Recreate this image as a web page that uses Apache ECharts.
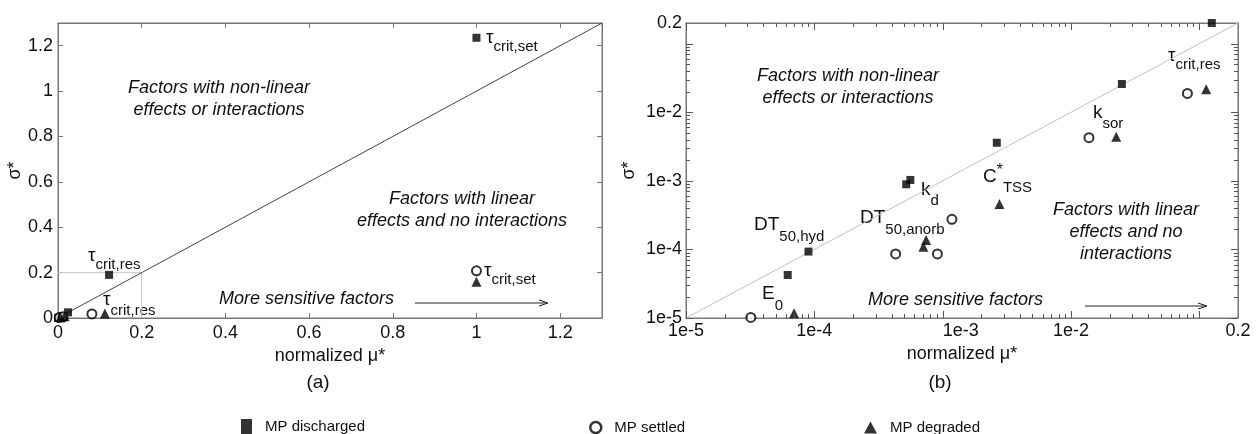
<!DOCTYPE html>
<html>
<head>
<meta charset="utf-8">
<script src="https://cdn.jsdelivr.net/npm/echarts@6/dist/echarts.min.js"></script>
<style>
  html, body { margin: 0; padding: 0; background: #fff; }
  #chart { width: 1256px; height: 434px; }
</style>
</head>
<body>
<div id="chart"></div>
<script>
// (a) linear scale – normalized mu* vs sigma*
const aDischargedX = [0, 0.004, 0.01, 0.024, 0.122, 1.0];
const aDischargedY = [0, 0.003, 0.006, 0.025, 0.19, 1.235];
const aSettledX = [0.003, 0.012, 0.081, 1.0];
const aSettledY = [0.002, 0.005, 0.018, 0.208];
const aDegradedX = [0.006, 0.016, 0.112, 1.0];
const aDegradedY = [0.003, 0.008, 0.02, 0.16];
const aTicks = [0, 0.2, 0.4, 0.6, 0.8, 1, 1.2];

// (b) log scale
const bDischargedX = [6.2e-5, 9.0e-5, 5.2e-4, 5.6e-4, 2.64e-3, 0.0249, 0.125];
const bDischargedY = [4.24e-5, 9.3e-5, 8.9e-4, 1.03e-3, 3.59e-3, 0.0258, 0.2];
const bSettledX = [3.2e-5, 4.3e-4, 9.1e-4, 1.18e-3, 0.0138, 0.0807];
const bSettledY = [1.02e-5, 8.6e-5, 8.6e-5, 2.75e-4, 4.25e-3, 0.0188];
const bDegradedX = [6.95e-5, 7.07e-4, 7.43e-4, 2.77e-3, 0.0225, 0.113];
const bDegradedY = [1.17e-5, 1.09e-4, 1.37e-4, 4.6e-4, 4.4e-3, 0.0216];
const bTicks = ['1e-5', '1e-4', '1e-3', '1e-2', '0.2'];

const seriesNames = ['MP discharged', 'MP settled', 'MP degraded'];

const FONT = 'Liberation Sans, Arial, sans-serif';
const AXIS = '#777';
const TICK = '#555';

// panel (b) plot box
const B_LEFT = 686, B_TOP = 23, B_W = 552, B_H = 295;
const LOG_MIN = 1e-5, LOG_MAX = 0.2;

const zip = (xs, ys) => xs.map((x, i) => [x, ys[i]]);

// tick positions of the log axes: decades and 2..9 x each decade
const majorTicks = [1e-5, 1e-4, 1e-3, 1e-2, 1e-1];
const minorTicks = [];
for (let n = -5; n <= -1; n++) {
  for (let k = 2; k <= 9; k++) {
    const v = k * Math.pow(10, n);
    if (v < LOG_MAX) minorTicks.push(v);
  }
}

function logLabel(axisDim) {
  return function (v) {
    const p = Math.log10(v);
    const r = Math.round(p);
    let s;
    if (Math.abs(p - r) < 1e-6) s = '1e' + r;
    else s = String(+v.toPrecision(1));
    if (bTicks.indexOf(s) < 0) return '';
    // the original figure has the 1e-3 x label sitting a bit right of its tick
    if (axisDim === 'x' && s === '1e-3') return '{sh|' + s + '}';
    return s;
  };
}

function linAxis(dim, grid, pos, showLabel) {
  return {
    type: 'value', gridIndex: grid, position: pos,
    min: 0, max: 1.3, interval: 0.2,
    axisLine: { show: true, onZero: false, lineStyle: { color: AXIS } },
    axisTick: { show: true, inside: true, length: 5, lineStyle: { color: AXIS } },
    axisLabel: {
      show: showLabel, color: '#111', fontSize: 18, fontFamily: FONT,
      margin: dim === 'x' ? 6 : 5, showMaxLabel: false,
      formatter: v => (aTicks.indexOf(+v.toFixed(2)) >= 0 ? String(+v.toFixed(2)) : '')
    },
    splitLine: { show: false }
  };
}

function logAxis(dim, grid, pos, showLabel) {
  return {
    type: 'log', logBase: 10, gridIndex: grid, position: pos,
    min: LOG_MIN, max: LOG_MAX,
    axisLine: { show: true, onZero: false, lineStyle: { color: AXIS } },
    axisTick: { show: false },
    axisLabel: {
      show: showLabel, color: '#111', fontSize: 18, fontFamily: FONT,
      margin: 4, showMaxLabel: true, showMinLabel: true, hideOverlap: false,
      formatter: logLabel(dim),
      rich: { sh: { fontSize: 18, fontFamily: FONT, color: '#111', padding: [0, 0, 0, 36] } }
    },
    splitLine: { show: false }
  };
}

function subText(x, y, main, sub, mainSize, subSize, dy, extra) {
  const pad = dy + mainSize / 2 - subSize / 2;
  return {
    type: 'text', x: x, y: y, silent: true,
    style: {
      text: '{m|' + main + '}' + (extra ? '{e|' + extra + '}' : '') + '{s|' + sub + '}',
      fill: '#111',
      rich: {
        m: { fontSize: mainSize, lineHeight: mainSize, verticalAlign: 'top', fontFamily: FONT, fill: '#111' },
        e: { fontSize: mainSize - 3, lineHeight: mainSize, verticalAlign: 'top', padding: [-4, 0, 0, 0], fontFamily: FONT, fill: '#111' },
        s: { fontSize: subSize, lineHeight: subSize, verticalAlign: 'top', padding: [pad, 0, 0, 0], fontFamily: FONT, fill: '#111' }
      }
    }
  };
}

function italic(x, y, text, align) {
  return {
    type: 'text', x: x, y: y, silent: true,
    style: {
      text: text, fill: '#111', font: 'italic 18px ' + FONT,
      align: align || 'center', verticalAlign: 'middle', lineHeight: 22
    }
  };
}

function arrow(x1, x2, y) {
  return [
    { type: 'line', silent: true, shape: { x1: x1, y1: y, x2: x2 - 2, y2: y }, style: { stroke: '#222', lineWidth: 1 } },
    { type: 'polyline', silent: true, shape: { points: [[x2 - 9, y - 3], [x2, y], [x2 - 9, y + 3]] }, style: { stroke: '#222', lineWidth: 1, fill: null } }
  ];
}

const markerStyle = [
  { symbol: 'rect', symbolSize: 8, itemStyle: { color: '#000' } },
  { symbol: 'circle', symbolSize: 9, itemStyle: { color: '#fff', borderColor: '#000', borderWidth: 2 } },
  { symbol: 'triangle', symbolSize: 10, itemStyle: { color: '#000' } }
];

function scatterSeries(grid, data) {
  return data.map((d, i) => ({
    name: seriesNames[i], type: 'scatter',
    xAxisIndex: grid * 2, yAxisIndex: grid * 2,
    data: d, clip: false, z: 5,
    symbol: markerStyle[i].symbol, symbolSize: markerStyle[i].symbolSize,
    itemStyle: markerStyle[i].itemStyle
  }));
}

const chart = echarts.init(document.getElementById('chart'));

// pixel position of a log-axis value in panel (b); asks the axis first
function logPos(dim, v) {
  let p = NaN;
  try {
    p = chart.convertToPixel(dim === 'x' ? { xAxisIndex: 2 } : { yAxisIndex: 2 }, v);
  } catch (e) { p = NaN; }
  if (typeof p !== 'number' || !isFinite(p)) {
    const f = (Math.log10(v) - Math.log10(LOG_MIN)) / (Math.log10(LOG_MAX) - Math.log10(LOG_MIN));
    p = dim === 'x' ? B_LEFT + f * B_W : B_TOP + B_H - f * B_H;
  }
  return p;
}

// inward ticks on all four sides of panel (b), as one polyline per side
function logTicks() {
  const x0 = B_LEFT, x1 = B_LEFT + B_W, y0 = B_TOP + B_H, y1 = B_TOP;
  const paths = [];
  const add = (v, len) => {
    const x = Math.round(logPos('x', v)) + 0.5;
    const y = Math.round(logPos('y', v)) + 0.5;
    paths.push([[x, y0], [x, y0 - len]]);
    paths.push([[x, y1], [x, y1 + len]]);
    paths.push([[x0, y], [x0 + len, y]]);
    paths.push([[x1, y], [x1 - len, y]]);
  };
  majorTicks.forEach(v => add(v, 7));
  minorTicks.forEach(v => add(v, 4));
  return paths.map(p => ({
    type: 'polyline', silent: true, z: 100,
    shape: { points: p },
    style: { stroke: TICK, lineWidth: 1, fill: null }
  }));
}

let tickGraphics = [];
try { tickGraphics = logTicks(); } catch (e) { tickGraphics = []; }

const graphics = [
  // panel (a)
  italic(219, 99, 'Factors with non-linear\neffects or interactions'),
  italic(462, 210, 'Factors with linear\neffects and no interactions'),
  italic(219, 299, 'More sensitive factors', 'left'),
  ...arrow(415, 548, 303),
  subText(486, 28, 'τ', 'crit,set', 19, 15, 9),
  subText(88, 246, 'τ', 'crit,res', 19, 15, 9),
  subText(484, 261, 'τ', 'crit,set', 19, 15, 9),
  subText(103, 290, 'τ', 'crit,res', 19, 15, 11),
  { type: 'text', x: 318, y: 383, silent: true, style: { text: '(a)', fill: '#111', font: '19px ' + FONT, align: 'center', verticalAlign: 'middle' } },
  // panel (b)
  italic(848, 87, 'Factors with non-linear\neffects or interactions'),
  italic(1126, 232, 'Factors with linear\neffects and no\ninteractions'),
  italic(868, 300, 'More sensitive factors', 'left'),
  ...arrow(1085, 1207, 306),
  subText(1168, 46, 'τ', 'crit,res', 19, 15, 9),
  subText(1093, 103, 'k', 'sor', 19, 15, 11),
  subText(983, 167, 'C', 'TSS', 19, 15, 11, '*'),
  subText(921, 180, 'k', 'd', 19, 15, 11),
  subText(860, 208, 'DT', '50,anorb', 19, 15, 12),
  subText(754, 215, 'DT', '50,hyd', 19, 15, 12),
  subText(762, 284, 'E', '0', 19, 15, 12),
  { type: 'text', x: 940, y: 383, silent: true, style: { text: '(b)', fill: '#111', font: '19px ' + FONT, align: 'center', verticalAlign: 'middle' } }
].concat(tickGraphics);

const option = {
  backgroundColor: '#fff',
  animation: false,
  grid: [
    { left: 58, top: 23, width: 544, height: 295, show: true, borderColor: AXIS, borderWidth: 1 },
    { left: B_LEFT, top: B_TOP, width: B_W, height: B_H, show: true, borderColor: AXIS, borderWidth: 1 }
  ],
  xAxis: [
    Object.assign(linAxis('x', 0, 'bottom', true), {
      name: 'normalized μ*', nameLocation: 'middle', nameGap: 27,
      nameTextStyle: { color: '#111', fontSize: 18, fontFamily: FONT }
    }),
    linAxis('x', 0, 'top', false),
    Object.assign(logAxis('x', 1, 'bottom', true), {
      name: 'normalized μ*', nameLocation: 'middle', nameGap: 27,
      nameTextStyle: { color: '#111', fontSize: 18, fontFamily: FONT }
    }),
    logAxis('x', 1, 'top', false)
  ],
  yAxis: [
    Object.assign(linAxis('y', 0, 'left', true), {
      name: 'σ*', nameLocation: 'middle', nameGap: 29, nameRotate: 90,
      nameTextStyle: { color: '#111', fontSize: 18, fontFamily: FONT }
    }),
    linAxis('y', 0, 'right', false),
    Object.assign(logAxis('y', 1, 'left', true), {
      name: 'σ*', nameLocation: 'middle', nameGap: 48, nameRotate: 90,
      nameTextStyle: { color: '#111', fontSize: 18, fontFamily: FONT }
    }),
    logAxis('y', 1, 'right', false)
  ],
  legend: [
    { data: [{ name: seriesNames[0], icon: 'rect' }], left: 236, top: 414, itemWidth: 11, itemHeight: 15 },
    {
      data: [{ name: seriesNames[1], icon: 'circle', itemStyle: { color: '#fff', borderColor: '#000', borderWidth: 2.5 } }],
      left: 584, top: 415, itemWidth: 11, itemHeight: 11
    },
    { data: [{ name: seriesNames[2], icon: 'triangle' }], left: 859, top: 415, itemWidth: 13, itemHeight: 12 }
  ].map(l => Object.assign(l, {
    selectedMode: false,
    textStyle: { color: '#111', fontSize: 15, fontFamily: FONT, padding: [0, 0, 0, 8] }
  })),
  series: [
    {
      type: 'line', xAxisIndex: 0, yAxisIndex: 0, silent: true, symbol: 'none', z: 2,
      data: [[0, 0], [1.3, 1.3]], lineStyle: { color: '#444', width: 1 }
    },
    {
      type: 'line', xAxisIndex: 0, yAxisIndex: 0, silent: true, symbol: 'none', z: 1,
      data: [[0, 0.2], [0.2, 0.2], [0.2, 0]], lineStyle: { color: '#c8c8c8', width: 1 }
    },
    {
      type: 'line', xAxisIndex: 2, yAxisIndex: 2, silent: true, symbol: 'none', z: 2,
      data: [[LOG_MIN, LOG_MIN], [LOG_MAX, LOG_MAX]], lineStyle: { color: '#c0c0c0', width: 1 }
    }
  ].concat(
    scatterSeries(0, [zip(aDischargedX, aDischargedY), zip(aSettledX, aSettledY), zip(aDegradedX, aDegradedY)]),
    scatterSeries(1, [zip(bDischargedX, bDischargedY), zip(bSettledX, bSettledY), zip(bDegradedX, bDegradedY)])
  ),
  graphic: graphics
};

chart.setOption(option);
</script>
</body>
</html>
